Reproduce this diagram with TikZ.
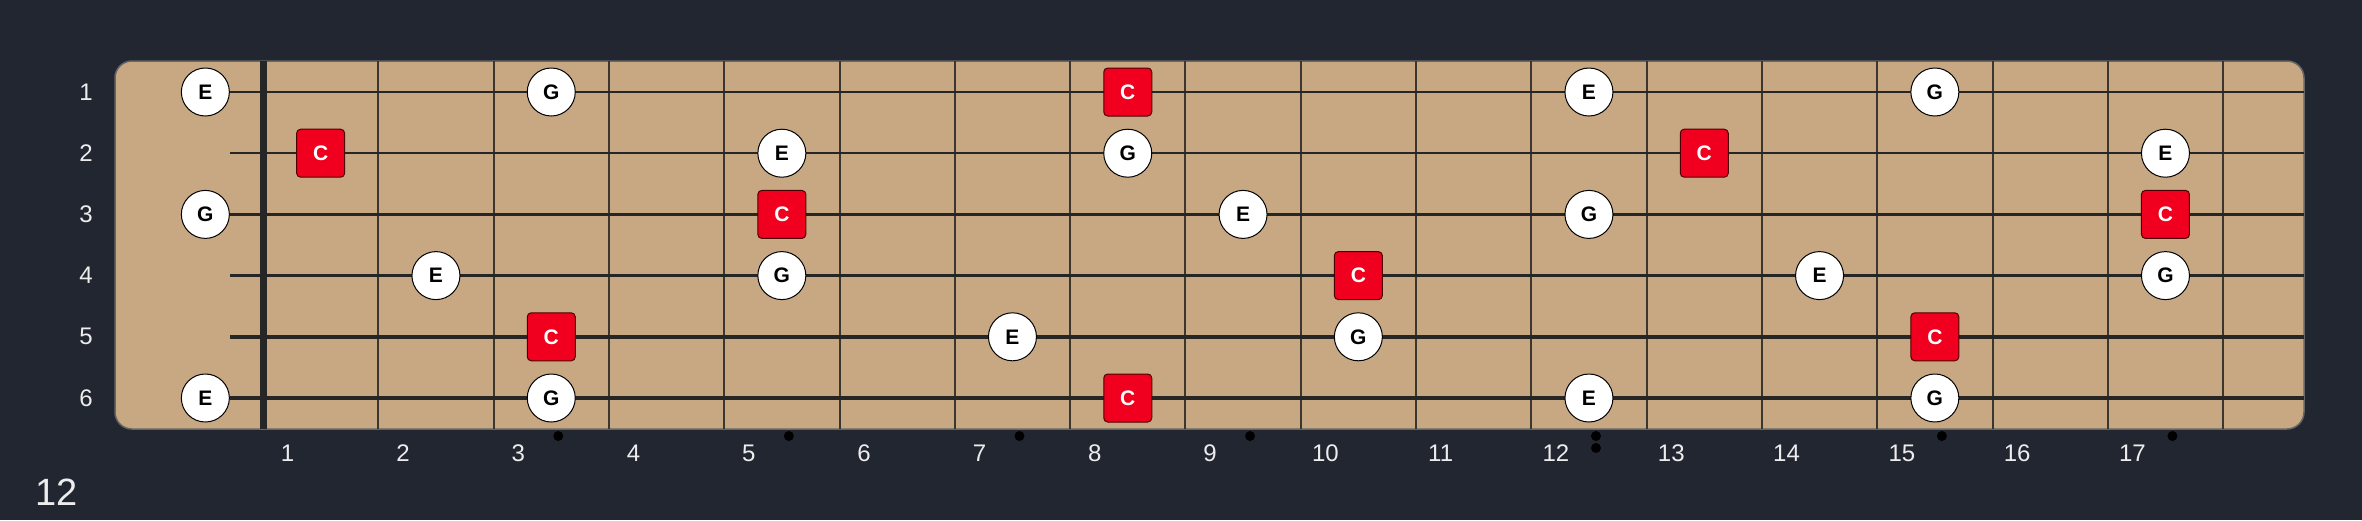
\documentclass[tikz,border=0pt]{standalone}
\usepackage{fontspec}
\setmainfont{Liberation Sans}
\usepackage{tikz}
\usetikzlibrary{positioning}

\definecolor{bgdark}{HTML}{222631}
\definecolor{wood}{HTML}{C8A882}
\definecolor{rootred}{HTML}{F0001E}
\definecolor{wire}{HTML}{262626}
\definecolor{fretc}{HTML}{3A3630}
\definecolor{labelc}{HTML}{EDEDED}

\tikzset{
  tone/.style={circle, draw=black, line width=1pt, fill=white, minimum size=48pt,
    inner sep=0pt, font=\fontsize{21}{21}\selectfont\bfseries},
  root/.style={rectangle, rounded corners=4pt, draw=black!70!red, line width=1pt,
    fill=rootred, text=white, minimum size=48pt, inner sep=0pt,
    font=\fontsize{21}{21}\selectfont\bfseries},
  numlabel/.style={text=labelc, inner sep=0pt, font=\fontsize{24}{24}\selectfont}
}

\begin{document}
\begin{tikzpicture}[x=1pt, y=-1pt]
  % page and fretboard
  \fill[bgdark] (0,0) rectangle (2362,520);
  \useasboundingbox (0,0) rectangle (2362,520);
  \filldraw[fill=wood, draw=gray!80!black, line width=1.5pt, rounded corners=17pt]
    (115,61) rectangle (2304,429);

  % frets
  \foreach \f in {1,...,17}
    \draw[fretc, line width=2pt] ({263+115.3*\f},61) -- ({263+115.3*\f},429);

  % strings, thin to thick
  \foreach \s/\w in {1/1.5, 2/2, 3/2.5, 4/3, 5/3.5, 6/4.5}
    \draw[wire, line width=\w pt] (230,{92+61.2*(\s-1)}) -- (2304,{92+61.2*(\s-1)});

  % nut
  \fill[wire] (259.5,61) rectangle (266.5,429);

  % inlay dots
  \foreach \f in {3,5,7,9,15,17}
    \fill[black] ({263+115.3*(\f-0.5)+7},436) circle (5pt);
  \fill[black] ({263+115.3*11.5+7},436) circle (5pt);
  \fill[black] ({263+115.3*11.5+7},448) circle (5pt);

  % string numbers
  \foreach \s in {1,...,6}
    \node[numlabel] (sl\s) at (86,{92+61.2*(\s-1)}) {\s};

  % fret numbers
  \foreach \f in {1,...,17}
    \node[numlabel] (fl\f) at ({263+115.3*(\f-0.5)-33},453) {\f};

  \node[numlabel, font=\fontsize{38}{38}\selectfont] (pos) at (57,492) {12};

  % C major triad tones
  \foreach \s/\f/\n/\k in {
      1/0/E/tone, 1/3/G/tone, 1/8/C/root, 1/12/E/tone, 1/15/G/tone,
      2/1/C/root, 2/5/E/tone, 2/8/G/tone, 2/13/C/root, 2/17/E/tone,
      3/0/G/tone, 3/5/C/root, 3/9/E/tone, 3/12/G/tone, 3/17/C/root,
      4/2/E/tone, 4/5/G/tone, 4/10/C/root, 4/14/E/tone, 4/17/G/tone,
      5/3/C/root, 5/7/E/tone, 5/10/G/tone, 5/15/C/root,
      6/0/E/tone, 6/3/G/tone, 6/8/C/root, 6/12/E/tone, 6/15/G/tone}
    \node[\k] (n\s-\f) at ({263+115.3*(\f-0.5)},{92+61.2*(\s-1)}) {\n};
\end{tikzpicture}
\end{document}
